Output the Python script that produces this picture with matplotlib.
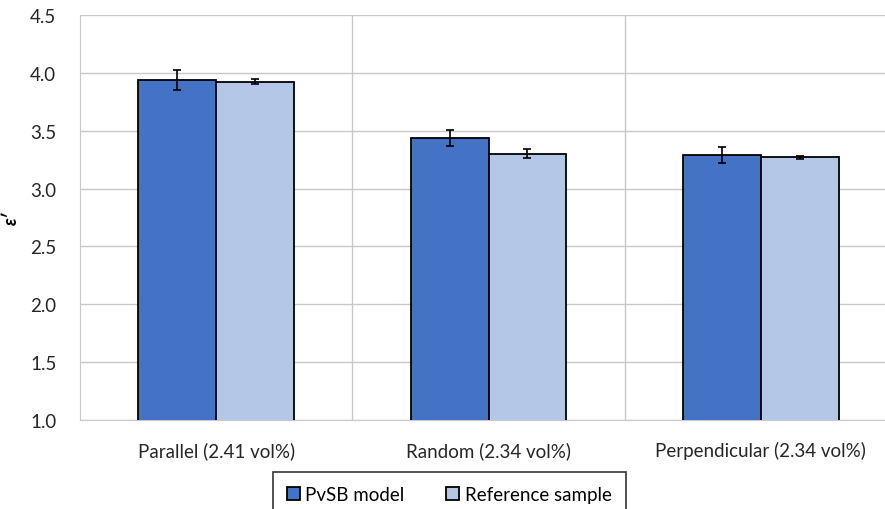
import numpy as np
import matplotlib
matplotlib.use("Agg")
import matplotlib.pyplot as plt
from matplotlib.ticker import FixedLocator

# Data
categories = ["Parallel (2.41 vol%)", "Random (2.34 vol%)", "Perpendicular (2.34 vol%)"]
series_names = ["PvSB model", "Reference sample"]
pvsb_values = [3.94, 3.44, 3.29]
pvsb_errors = [0.088, 0.07, 0.067]
ref_values = [3.925, 3.30, 3.27]
ref_errors = [0.023, 0.038, 0.013]
y_ticks = [1.0, 1.5, 2.0, 2.5, 3.0, 3.5, 4.0, 4.5]

plt.rcParams['font.family'] = ['Lato', 'DejaVu Sans']

fig = plt.figure(figsize=(8.85, 5.10), dpi=100)
ax = fig.add_axes([80 / 885, 89 / 510, 817 / 885, 405 / 510])

x = np.arange(len(categories))
width = 0.286
grid_color = "#c8c8c8"
font_size = 13.5

ax.bar(x - width / 2, pvsb_values, width, color="#4472C4", edgecolor="black",
       linewidth=1.3, label=series_names[0], zorder=3)
ax.bar(x + width / 2, ref_values, width, color="#B4C7E7", edgecolor="black",
       linewidth=1.3, label=series_names[1], zorder=3)
ax.errorbar(x - width / 2, pvsb_values, yerr=pvsb_errors, fmt="none", ecolor="black",
            elinewidth=1.2, capsize=3.2, capthick=1.2, zorder=4)
ax.errorbar(x + width / 2, ref_values, yerr=ref_errors, fmt="none", ecolor="black",
            elinewidth=1.2, capsize=3.2, capthick=1.2, zorder=4)

ax.set_xlim(-0.5, len(categories) - 0.5)
ax.set_ylim(1.0, 4.5)
ax.set_yticks(y_ticks)
ax.set_yticklabels([f"{v:.1f}" for v in y_ticks])
ax.set_xticks(x)
ax.set_xticklabels(categories)
ax.xaxis.set_minor_locator(FixedLocator([0.5, 1.5]))

ax.grid(axis="y", color=grid_color, linewidth=1.0, zorder=0)
ax.grid(axis="x", which="minor", color=grid_color, linewidth=1.0, zorder=0)
ax.tick_params(axis="both", which="both", length=0, labelsize=font_size, colors="#262626")
ax.tick_params(axis="y", pad=17)
ax.tick_params(axis="x", pad=15)
for side in ["top", "right"]:
    ax.spines[side].set_visible(False)
ax.spines["left"].set_color(grid_color)
ax.spines["bottom"].set_color(grid_color)

ax.set_ylabel("ε′", fontsize=13, fontweight="bold", fontstyle="italic")
ax.yaxis.set_label_coords((20 - 80) / 817, 0.5)

handles, labels = ax.get_legend_handles_labels()
leg = fig.legend(handles, labels, loc="upper center", bbox_to_anchor=(449 / 885, 37 / 510),
                 ncol=2, frameon=True, fancybox=False, fontsize=font_size,
                 handlelength=0.7, handleheight=0.7, handletextpad=0.3,
                 columnspacing=2.2, borderpad=0.75, borderaxespad=0)
leg.get_frame().set_edgecolor("black")
leg.get_frame().set_linewidth(1.2)

fig.savefig("out.png", dpi=100)
